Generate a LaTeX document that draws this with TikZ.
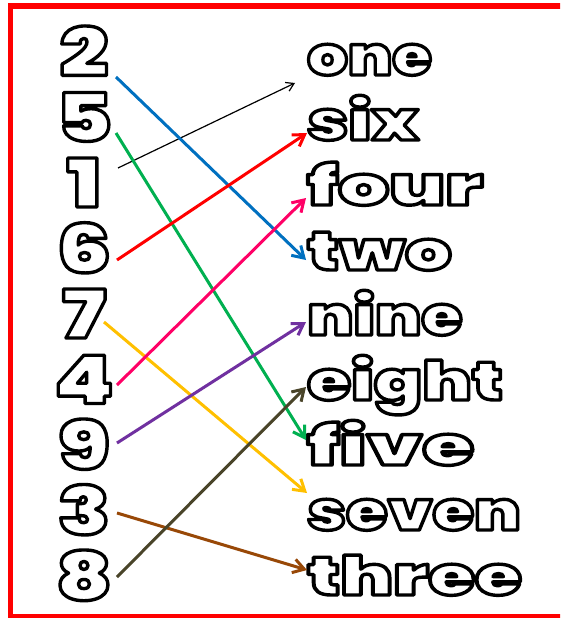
\documentclass[tikz,border=0pt]{standalone}
\usepackage{fontspec}
\usepackage{graphicx}
\newfontfamily\bubfont{Poppins}[UprightFont={* Black}, FakeStretch=1.22]
\newfontfamily\digfont{Poppins}[UprightFont={* Black}, FakeStretch=1.28]
\usetikzlibrary{arrows.meta}
\definecolor{cblue}{HTML}{0070C0}
\definecolor{cgreen}{HTML}{00B050}
\definecolor{cred}{HTML}{FF0000}
\definecolor{cyellow}{HTML}{FFC000}
\definecolor{cpink}{HTML}{FF0066}
\definecolor{cpurple}{HTML}{7030A0}
\definecolor{cbrown}{HTML}{984807}
\definecolor{colive}{HTML}{494429}
% outlined (bubble) text: white fill, black stroke
\newcommand\bub[2][1]{\scalebox{#1}[1]{\special{pdf:literal 0 0 0 RG 1 1 1 rg 2 Tr 3.4 w 1 j 1 J}#2\special{pdf:literal 0 Tr 0 g 0 G}}}
\begin{document}
\begin{tikzpicture}[x=1pt,y=-1pt,
  digit/.style={font=\digfont\fontsize{67}{67}\selectfont, inner sep=0pt, anchor=base},
  word/.style={font=\bubfont\fontsize{54}{54}\selectfont, inner sep=0pt, anchor=base west},
  link/.style={line width=3pt, -{Straight Barb[angle=64:13pt]}},
  thinlink/.style={line width=1.2pt, -{Straight Barb[angle=64:9pt]}}]
\useasboundingbox (0,0) rectangle (560,618);
\clip (0,0) rectangle (560,618);
\fill[white] (0,0) rectangle (560,618);
\draw[cred, line width=5.5pt] (10.5,6) rectangle (580,616.5);
% digits
\node[digit] (d2) at (84,76) {\bub{2}};
\node[digit] (d5) at (84,141.5) {\bub{5}};
\node[digit] (d1) at (84,207) {\bub{1}};
\node[digit] (d6) at (84,272.5) {\bub{6}};
\node[digit] (d7) at (84,338) {\bub{7}};
\node[digit] (d4) at (84,403.5) {\bub{4}};
\node[digit] (d9) at (84,469) {\bub{9}};
\node[digit] (d3) at (84,534.5) {\bub{3}};
\node[digit] (d8) at (84,600) {\bub{8}};
% words
\node[word] (wone) at (307,75) {\bub[0.97]{one}};
\node[word] (wsix) at (307,140) {\bub[1.08]{six}};
\node[word] (wfour) at (307,205) {\bub[1.22]{four}};
\node[word] (wtwo) at (307,270) {\bub[1.11]{two}};
\node[word] (wnine) at (307,335) {\bub[1.01]{nine}};
\node[word] (weight) at (307,400) {\bub[1.08]{eight}};
\node[word] (wfive) at (307,465) {\bub[1.27]{five}};
\node[word] (wseven) at (307,530) {\bub[1.02]{seven}};
\node[word] (wthree) at (307,595) {\bub[1.15]{three}};
% connectors
\draw[thinlink, black] ([shift={(34,-39)}]d1.base) -- ([shift={(-12,8)}]wone.base west);
\draw[link, cblue] ([shift={(32,1)}]d2.base) -- ([shift={(-1,-10)}]wtwo.base west);
\draw[link, cgreen] ([shift={(32,-8.5)}]d5.base) -- ([shift={(-1,-25)}]wfive.base west);
\draw[link, cred] ([shift={(33,-12.5)}]d6.base) -- ([shift={(0,-7)}]wsix.base west);
\draw[link, cyellow] ([shift={(20,-16)}]d7.base) -- ([shift={(0,-37)}]wseven.base west);
\draw[link, cpink] ([shift={(33,-18.5)}]d4.base) -- ([shift={(-1,-7)}]wfour.base west);
\draw[link, cpurple] ([shift={(33,-26)}]d9.base) -- ([shift={(-1,-13)}]wnine.base west);
\draw[link, cbrown] ([shift={(33,-21.5)}]d3.base) -- ([shift={(0,-25)}]wthree.base west);
\draw[link, colive] ([shift={(33,-23)}]d8.base) -- ([shift={(-1,-13)}]weight.base west);
\end{tikzpicture}
\end{document}
